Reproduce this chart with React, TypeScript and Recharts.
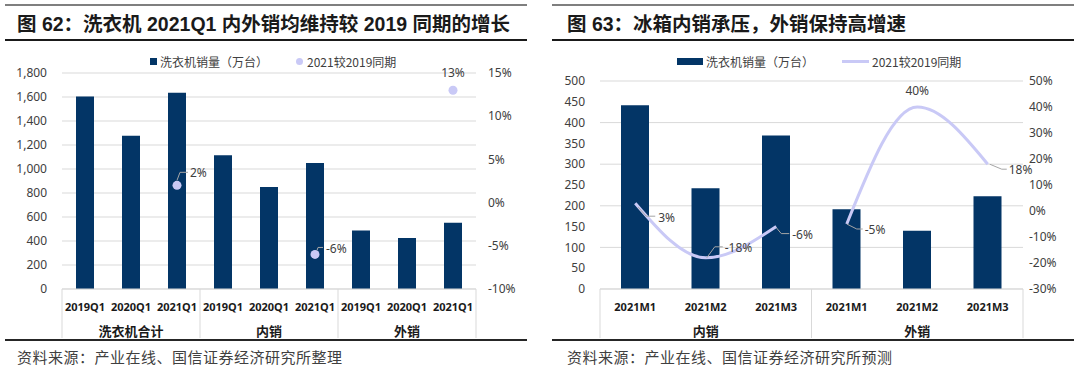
import {
  ComposedChart,
  Bar,
  Line,
  XAxis,
  YAxis,
  CartesianGrid,
  Legend,
  LabelList,
} from 'recharts';

// 图62 洗衣机
const WASHER_CATS = ['2019Q1', '2020Q1', '2021Q1', '2019Q1', '2020Q1', '2021Q1', '2019Q1', '2020Q1', '2021Q1'];
const WASHER_GROUPS = ['洗衣机合计', '内销', '外销'];
const WASHER_SALES = [1605, 1278, 1635, 1115, 850, 1050, 488, 425, 552];
const WASHER_PCT = [null, null, 2, null, null, -6, null, null, 13];
const WASHER_LEFT_TICKS = [0, 200, 400, 600, 800, 1000, 1200, 1400, 1600, 1800];
const WASHER_RIGHT_TICKS = [-10, -5, 0, 5, 10, 15];

// 图63 冰箱
const FRIDGE_CATS = ['2021M1', '2021M2', '2021M3', '2021M1', '2021M2', '2021M3'];
const FRIDGE_GROUPS = ['内销', '外销'];
const FRIDGE_SALES = [442, 242, 369, 192, 140, 223];
const FRIDGE_PCT = [3, -18, -6, -5, 40, 18];
const FRIDGE_LEFT_TICKS = [0, 50, 100, 150, 200, 250, 300, 350, 400, 450, 500];
const FRIDGE_RIGHT_TICKS = [-30, -20, -10, 0, 10, 20, 30, 40, 50];

const NAVY = '#033566';
const LAVENDER = '#c9c9f6';
const GRID = '#d9d9d9';
const TEXT = '#404040';
const CJK = '"Noto Sans CJK SC", sans-serif';
const NUM = '"Noto Sans", "Noto Sans CJK SC", sans-serif';
const TITLE_FONT = '"Liberation Sans", "Noto Sans CJK SC", sans-serif';

type Leader = { path?: number[][]; dx: number; dy: number; anchor: 'start' | 'middle' };

// label offsets relative to each point (index -> placement)
const WASHER_LEADERS: Record<number, Leader> = {
  2: { path: [[0, -5], [3, -13], [11, -13]], dx: 13, dy: -13, anchor: 'start' },
  5: { path: [[2, -4], [3, -7], [8, -7]], dx: 11, dy: -6, anchor: 'start' },
  8: { dx: 0, dy: -18, anchor: 'middle' },
};

const FRIDGE_LEADERS: Record<number, Leader> = {
  0: { path: [[3, 4], [11, 13], [20, 13]], dx: 23, dy: 14, anchor: 'start' },
  1: { path: [[1, 0], [9, -11], [17, -11]], dx: 19, dy: -10, anchor: 'start' },
  2: { path: [[0, 1], [5, 7], [13, 7]], dx: 16, dy: 8, anchor: 'start' },
  3: { path: [[0, 0], [10, 5], [16, 5]], dx: 18, dy: 5, anchor: 'start' },
  4: { dx: 0, dy: -17, anchor: 'middle' },
  5: { path: [[2, 0], [14, 5], [19, 5]], dx: 21, dy: 5, anchor: 'start' },
};

function leaderLabel(leaders: Record<number, Leader>) {
  return (p: any) => {
    const { x, y, value, index } = p;
    if (value == null || x == null || y == null) return null;
    const l = leaders[index];
    if (!l) return null;
    return (
      <g>
        {l.path && (
          <polyline
            points={l.path.map(([a, b]) => `${x + a},${y + b}`).join(' ')}
            fill="none"
            stroke="#a6a6a6"
            strokeWidth={1}
          />
        )}
        <text
          x={x + l.dx}
          y={y + l.dy}
          textAnchor={l.anchor}
          dominantBaseline="central"
          fontSize={12}
          fontFamily={NUM}
          fill={TEXT}
        >
          {`${value}%`}
        </text>
      </g>
    );
  };
}

function GroupedTick(props: any) {
  const { x, y, index, cats, groups, per, band } = props;
  const pos = index % per;
  return (
    <g>
      {pos === 0 && (
        <line x1={x - band / 2} x2={x - band / 2} y1={y} y2={y + 49} stroke={GRID} />
      )}
      {index === cats.length - 1 && (
        <line x1={x + band / 2} x2={x + band / 2} y1={y} y2={y + 49} stroke={GRID} />
      )}
      <text
        x={x}
        y={y + 17}
        textAnchor="middle"
        dominantBaseline="central"
        fontSize={11}
        fontWeight={700}
        fontFamily={NUM}
        fill="#1a1a1a"
      >
        {cats[index]}
      </text>
      {pos === 1 && (
        <text
          x={x}
          y={y + 41}
          textAnchor="middle"
          dominantBaseline="central"
          fontSize={13}
          fontWeight={700}
          fontFamily={CJK}
          fill="#1a1a1a"
        >
          {groups[Math.floor(index / per)]}
        </text>
      )}
    </g>
  );
}

const tickStyle = { fontSize: 12, fill: TEXT, fontFamily: NUM };

function WasherChart() {
  const data = WASHER_CATS.map((c, i) => ({ id: String(i), cat: c, sales: WASHER_SALES[i], pct: WASHER_PCT[i] }));
  const band = 414 / WASHER_CATS.length;
  return (
    <ComposedChart width={540} height={369} data={data} margin={{ top: 73, right: 0, bottom: 30, left: 0 }}>
      <CartesianGrid vertical={false} stroke={GRID} yAxisId="left" />
      <XAxis
        dataKey="id"
        interval={0}
        height={50}
        tickLine={false}
        tickSize={0}
        tickMargin={0}
        axisLine={{ stroke: GRID }}
        tick={(p: any) => (
          <GroupedTick {...p} cats={WASHER_CATS} groups={WASHER_GROUPS} per={3} band={band} />
        )}
      />
      <YAxis
        yAxisId="left"
        width={62}
        domain={[0, 1800]}
        ticks={WASHER_LEFT_TICKS}
        axisLine={false}
        tickLine={false}
        tickSize={0}
        tickMargin={15}
        tick={tickStyle}
        tickFormatter={(v: number) => v.toLocaleString('en-US')}
      />
      <YAxis
        yAxisId="right"
        orientation="right"
        width={64}
        domain={[-10, 15]}
        ticks={WASHER_RIGHT_TICKS}
        axisLine={false}
        tickLine={false}
        tickSize={0}
        tickMargin={12}
        tick={tickStyle}
        tickFormatter={(v: number) => `${v}%`}
      />
      <Legend
        verticalAlign="middle"
        wrapperStyle={{ top: 53, left: 150, width: 300 }}
        content={() => (
          <div style={{ display: 'flex', alignItems: 'center', fontFamily: CJK, fontSize: 12, color: TEXT, whiteSpace: 'nowrap' }}>
            <span style={{ width: 7, height: 7, background: NAVY, marginRight: 3 }} />
            <span>洗衣机销量（万台）</span>
            <span style={{ width: 7, height: 7, borderRadius: '50%', background: LAVENDER, marginLeft: 28, marginRight: 4 }} />
            <span>2021较2019同期</span>
          </div>
        )}
      />
      <Bar yAxisId="left" dataKey="sales" fill={NAVY} barSize={18} isAnimationActive={false} />
      <Line
        yAxisId="right"
        dataKey="pct"
        stroke="none"
        dot={{ r: 4.5, fill: LAVENDER, stroke: 'none' }}
        activeDot={false}
        isAnimationActive={false}
      >
        <LabelList dataKey="pct" content={leaderLabel(WASHER_LEADERS)} />
      </Line>
    </ComposedChart>
  );
}

function FridgeChart() {
  const data = FRIDGE_CATS.map((c, i) => ({
    id: String(i),
    cat: c,
    sales: FRIDGE_SALES[i],
    pctDom: i < 3 ? FRIDGE_PCT[i] : null,
    pctExp: i >= 3 ? FRIDGE_PCT[i] : null,
  }));
  const band = 423 / FRIDGE_CATS.length;
  return (
    <ComposedChart width={540} height={369} data={data} margin={{ top: 81, right: 0, bottom: 30, left: 0 }}>
      <CartesianGrid vertical={false} stroke={GRID} yAxisId="left" />
      <XAxis
        dataKey="id"
        interval={0}
        height={50}
        tickLine={false}
        tickSize={0}
        tickMargin={0}
        axisLine={{ stroke: GRID }}
        tick={(p: any) => (
          <GroupedTick {...p} cats={FRIDGE_CATS} groups={FRIDGE_GROUPS} per={3} band={band} />
        )}
      />
      <YAxis
        yAxisId="left"
        width={60}
        domain={[0, 500]}
        ticks={FRIDGE_LEFT_TICKS}
        axisLine={false}
        tickLine={false}
        tickSize={0}
        tickMargin={15}
        tick={tickStyle}
      />
      <YAxis
        yAxisId="right"
        orientation="right"
        width={57}
        domain={[-30, 50]}
        ticks={FRIDGE_RIGHT_TICKS}
        axisLine={false}
        tickLine={false}
        tickSize={0}
        tickMargin={6}
        tick={tickStyle}
        tickFormatter={(v: number) => `${v}%`}
      />
      <Legend
        verticalAlign="middle"
        wrapperStyle={{ top: 53, left: 137, width: 320 }}
        content={() => (
          <div style={{ display: 'flex', alignItems: 'center', fontFamily: CJK, fontSize: 12, color: TEXT, whiteSpace: 'nowrap' }}>
            <span style={{ width: 26, height: 7, background: NAVY, marginRight: 3 }} />
            <span>洗衣机销量（万台）</span>
            <span style={{ width: 27, height: 3, background: LAVENDER, marginLeft: 28, marginRight: 3 }} />
            <span>2021较2019同期</span>
          </div>
        )}
      />
      <Bar yAxisId="left" dataKey="sales" fill={NAVY} barSize={28} isAnimationActive={false} />
      <Line
        yAxisId="right"
        type="monotone"
        dataKey="pctDom"
        stroke={LAVENDER}
        strokeWidth={3}
        dot={false}
        activeDot={false}
        isAnimationActive={false}
      >
        <LabelList dataKey="pctDom" content={leaderLabel(FRIDGE_LEADERS)} />
      </Line>
      <Line
        yAxisId="right"
        type="monotone"
        dataKey="pctExp"
        stroke={LAVENDER}
        strokeWidth={3}
        dot={false}
        activeDot={false}
        legendType="none"
        isAnimationActive={false}
      >
        <LabelList dataKey="pctExp" content={leaderLabel(FRIDGE_LEADERS)} />
      </Line>
    </ComposedChart>
  );
}

function Panel({
  left,
  lineFrom,
  lineTo,
  textLeft,
  title,
  source,
  children,
}: {
  left: number;
  lineFrom: number;
  lineTo: number;
  textLeft: number;
  title: string;
  source: string;
  children: any;
}) {
  const rule = (top: number, h: number, color: string) => (
    <div style={{ position: 'absolute', left: lineFrom - left, top, width: lineTo - lineFrom, height: h, background: color }} />
  );
  return (
    <div style={{ position: 'absolute', left, top: 0, width: 540, height: 369 }}>
      {rule(4, 2, '#7f7f7f')}
      {rule(39, 2, '#1a1a1a')}
      {rule(339, 2, '#262626')}
      <div
        style={{
          position: 'absolute',
          left: textLeft - left,
          top: 9,
          fontFamily: TITLE_FONT,
          fontWeight: 700,
          fontSize: 19.5,
          lineHeight: '30px',
          color: '#1a1a1a',
          whiteSpace: 'nowrap',
        }}
      >
        {title}
      </div>
      <div style={{ position: 'absolute', left: 0, top: 0 }}>{children}</div>
      <div
        style={{
          position: 'absolute',
          left: textLeft - left,
          top: 346,
          fontFamily: CJK,
          fontSize: 15,
          letterSpacing: 0.5,
          lineHeight: '22px',
          color: TEXT,
          whiteSpace: 'nowrap',
        }}
      >
        {source}
      </div>
    </div>
  );
}

export default function App() {
  return (
    <div style={{ position: 'absolute', left: 0, top: 0, width: 1080, height: 369, background: '#fff', overflow: 'hidden' }}>
      <Panel
        left={0}
        lineFrom={5}
        lineTo={527}
        textLeft={17}
        title="图 62：洗衣机 2021Q1 内外销均维持较 2019 同期的增长"
        source="资料来源：产业在线、国信证券经济研究所整理"
      >
        <WasherChart />
      </Panel>
      <Panel
        left={540}
        lineFrom={552}
        lineTo={1074}
        textLeft={567}
        title="图 63：冰箱内销承压，外销保持高增速"
        source="资料来源：产业在线、国信证券经济研究所预测"
      >
        <FridgeChart />
      </Panel>
    </div>
  );
}
